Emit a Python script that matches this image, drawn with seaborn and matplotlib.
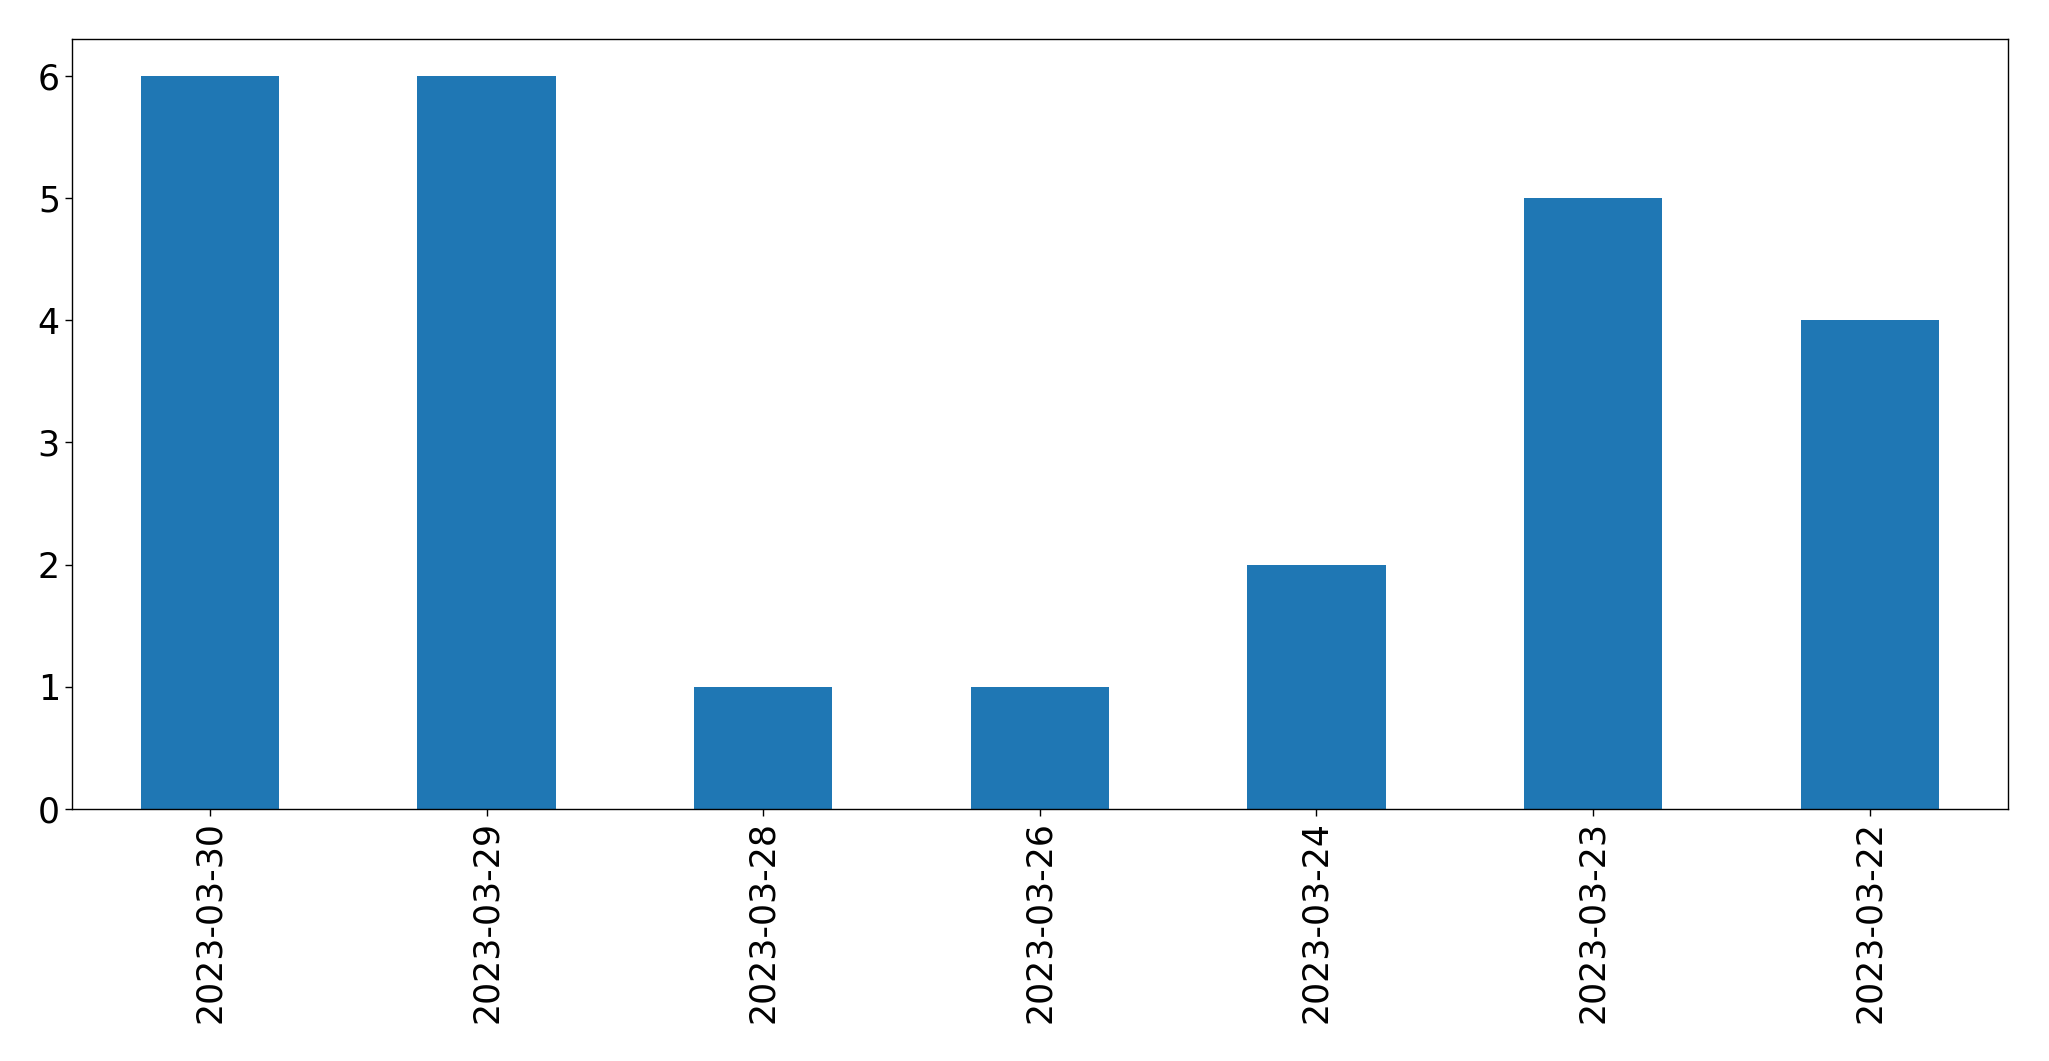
import pandas as pd
import seaborn as sns
import matplotlib
matplotlib.use('Agg')
import matplotlib.pyplot as plt

# Counts per date, in the order shown on the chart
dates = ['2023-03-30', '2023-03-29', '2023-03-28', '2023-03-26',
         '2023-03-24', '2023-03-23', '2023-03-22']
counts = [6, 6, 1, 1, 2, 5, 4]

df = pd.DataFrame({'date': dates, 'count': counts})

sns.set_style('ticks')
plt.rcParams['font.family'] = ['DejaVu Sans']

fig, ax = plt.subplots(figsize=(20.49, 10.61), dpi=100)
fig.subplots_adjust(left=0.035, right=0.98, top=0.963, bottom=0.2375)

sns.barplot(x='date', y='count', data=df, color='#1f77b4', saturation=1,
            width=0.5, ax=ax, order=dates, linewidth=0)

ax.set_xlabel('')
ax.set_ylabel('')
ax.set_xlim(-0.5, len(dates) - 0.5)
ax.set_ylim(0, 6.3)
ax.tick_params(axis='both', labelsize=25, length=5, width=1,
               color='black', labelcolor='black')
ax.tick_params(axis='x', rotation=90)
for spine in ax.spines.values():
    spine.set_visible(True)
    spine.set_color('black')
    spine.set_linewidth(1)

fig.savefig('out.png', dpi=100)
